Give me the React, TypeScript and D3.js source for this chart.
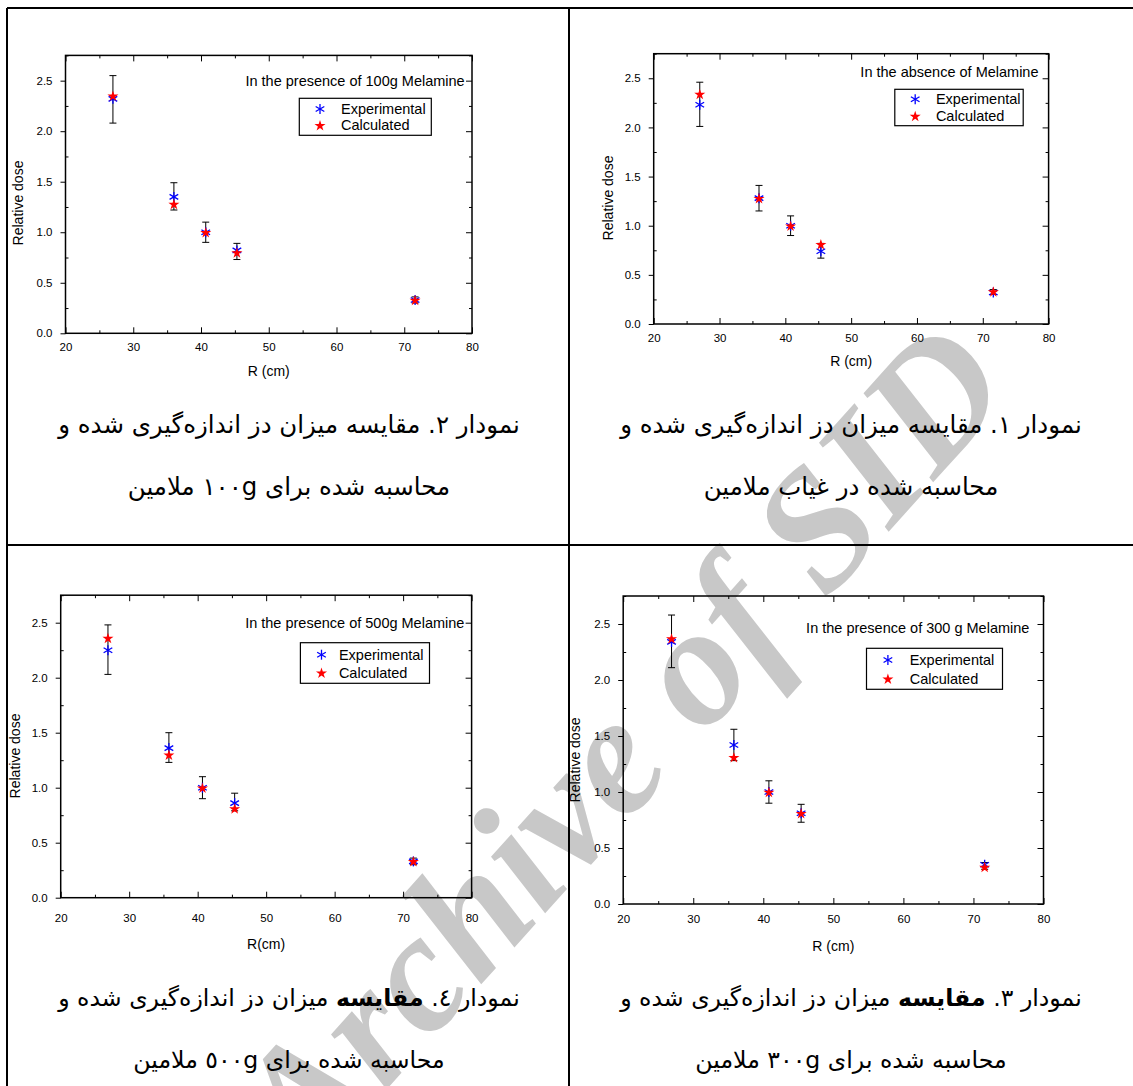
import React, { useEffect, useRef } from "react";
import * as d3 from "d3";

const xMajor = [20, 30, 40, 50, 60, 70, 80];
const xMinor = [25, 35, 45, 55, 65, 75];
const yMajor = [0, 0.5, 1, 1.5, 2, 2.5];
const yMinor = [0.25, 0.75, 1.25, 1.75, 2.25, 2.75];
const legendLabels = ["Experimental", "Calculated"];

// in the absence of melamine
const rAbsence = [27, 36, 40.8, 45.4, 71.6];
const expAbsence = [2.23, 1.28, 1.0, 0.74, 0.32];
const calcAbsence = [2.34, 1.28, 1.0, 0.81, 0.33];
const loAbsence = [2.01, 1.15, 0.9, 0.67, 0.3];
const hiAbsence = [2.46, 1.41, 1.1, 0.82, 0.35];

// 100 g melamine
const r100 = [27, 36, 40.7, 45.3, 71.6];
const exp100 = [2.32, 1.35, 1.0, 0.82, 0.33];
const calc100 = [2.35, 1.28, 1.0, 0.8, 0.33];
const lo100 = [2.08, 1.22, 0.9, 0.73, 0.3];
const hi100 = [2.55, 1.49, 1.1, 0.89, 0.36];

// 300 g melamine
const r300 = [26.9, 35.8, 40.8, 45.4, 71.6];
const exp300 = [2.34, 1.42, 1.0, 0.81, 0.35];
const calc300 = [2.37, 1.31, 1.0, 0.81, 0.33];
const lo300 = [2.11, 1.28, 0.9, 0.73, 0.31];
const hi300 = [2.58, 1.56, 1.1, 0.89, 0.37];

// 500 g melamine
const r500 = [26.9, 35.8, 40.7, 45.4, 71.5];
const exp500 = [2.25, 1.36, 1.0, 0.86, 0.33];
const calc500 = [2.36, 1.3, 1.0, 0.81, 0.33];
const lo500 = [2.03, 1.23, 0.9, 0.79, 0.3];
const hi500 = [2.48, 1.5, 1.1, 0.95, 0.36];

const titles = [
  "In the presence of 100g Melamine",
  "In the absence of Melamine",
  "In the presence of 500g Melamine",
  "In the presence of 300 g Melamine",
];

type Part = { t: string; b?: boolean };
const cap1: Part[][] = [
  [{ t: "نمودار ۲. مقایسه میزان دز اندازه\u200cگیری شده و" }],
  [{ t: "نمودار ۱. مقایسه میزان دز اندازه\u200cگیری شده و" }],
  [{ t: "نمودار ٤. " }, { t: "مقایسه", b: true }, { t: " میزان دز اندازه\u200cگیری شده و" }],
  [{ t: "نمودار ۳. " }, { t: "مقایسه", b: true }, { t: " میزان دز اندازه\u200cگیری شده و" }],
];
const cap2 = [
  "محاسبه شده برای ۱۰۰g ملامین",
  "محاسبه شده در غیاب ملامین",
  "محاسبه شده برای ٥٠٠g ملامین",
  "محاسبه شده برای ۳۰۰g ملامین",
];

const series = [
  { r: r100, exp: exp100, calc: calc100, lo: lo100, hi: hi100, xTitle: "R (cm)" },
  { r: rAbsence, exp: expAbsence, calc: calcAbsence, lo: loAbsence, hi: hiAbsence, xTitle: "R (cm)" },
  { r: r500, exp: exp500, calc: calc500, lo: lo500, hi: hi500, xTitle: "R(cm)" },
  { r: r300, exp: exp300, calc: calc300, lo: lo300, hi: hi300, xTitle: "R (cm)" },
];

// pixel layout of each panel
const boxes = [
  { left: 65.5, right: 472, top: 55.4, bottom: 333.3, titleX: 464.7, titleY: 81, legX: 299.3, legY: 98.3, legW: 132, legH: 37, symX: 320, txtX: 341, row1: 109, row2: 125.3, yTitleX: 18.2, yTitleY: 203, xLabelY: 351, xTitleY: 371, capX: 289, cap1Y: 433, cap2Y: 495 },
  { left: 653.7, right: 1048.6, top: 53.7, bottom: 324, titleX: 1038.5, titleY: 72.3, legX: 894.8, legY: 89.3, legW: 128.4, legH: 36.4, symX: 915.2, txtX: 935.9, row1: 99.3, row2: 116, yTitleX: 608, yTitleY: 198, xLabelY: 342.3, xTitleY: 361, capX: 851, cap1Y: 433, cap2Y: 495 },
  { left: 60.7, right: 471.6, top: 595.2, bottom: 897.7, titleX: 464.4, titleY: 622.7, legX: 300.4, legY: 642.7, legW: 129.1, legH: 40.6, symX: 321.5, txtX: 338.9, row1: 654.7, row2: 672.7, yTitleX: 14.5, yTitleY: 756, xLabelY: 922, xTitleY: 944, capX: 289, cap1Y: 1006, cap2Y: 1068 },
  { left: 623.2, right: 1043.5, top: 596, bottom: 904, titleX: 1029.4, titleY: 628, legX: 866.5, legY: 648.3, legW: 136, legH: 41, symX: 887.9, txtX: 909.7, row1: 660, row2: 678.7, yTitleX: 574.5, yTitleY: 760, xLabelY: 923, xTitleY: 946, capX: 851, cap1Y: 1006, cap2Y: 1068 },
];

const LATIN = "'Liberation Sans', Arial, sans-serif";
const PERSIAN = "'DejaVu Sans', sans-serif";

const starPath = d3.symbol(d3.symbolStar, 38)()!;

function asterisk(g: d3.Selection<SVGGElement, unknown, null, undefined>, cx: number, cy: number) {
  const r = 5;
  const a = g.append("g").attr("transform", `translate(${cx},${cy})`);
  [90, 30, 150].forEach((deg) => {
    const t = (deg * Math.PI) / 180;
    a.append("line")
      .attr("x1", -r * Math.cos(t))
      .attr("y1", -r * Math.sin(t))
      .attr("x2", r * Math.cos(t))
      .attr("y2", r * Math.sin(t))
      .attr("stroke", "#0000ff")
      .attr("stroke-width", 1.3);
  });
}

const App: React.FC = () => {
  const svgRef = useRef<SVGSVGElement | null>(null);

  useEffect(() => {
    if (!svgRef.current) return;
    document.body.style.margin = "0";
    const svg = d3.select(svgRef.current);
    svg.selectAll("*").remove();

    svg.append("rect").attr("width", 1133).attr("height", 1086).attr("fill", "#fff");

    // watermark
    svg
      .append("text")
      .attr("transform", "translate(620,745) rotate(-48)")
      .attr("text-anchor", "middle")
      .attr("dominant-baseline", "central")
      .attr("font-family", "'Liberation Serif', serif")
      .attr("font-style", "italic")
      .attr("font-weight", "bold")
      .attr("font-size", 170)
      .attr("fill", "#c8c8c8")
      .text("Archive of SID");

    // panel grid lines
    const grid = svg.append("g").attr("stroke", "#000").attr("stroke-width", 2);
    grid.append("line").attr("x1", 7).attr("x2", 1133).attr("y1", 8).attr("y2", 8);
    grid.append("line").attr("x1", 7).attr("x2", 1133).attr("y1", 545).attr("y2", 545);
    grid.append("line").attr("x1", 7).attr("x2", 7).attr("y1", 8).attr("y2", 1086);
    grid.append("line").attr("x1", 569).attr("x2", 569).attr("y1", 8).attr("y2", 1086);

    series.forEach((s, i) => {
      const b = boxes[i];
      const x = d3.scaleLinear().domain([20, 80]).range([b.left, b.right]);
      const y = d3.scaleLinear().domain([0, 2.75]).range([b.bottom, b.top]);
      const g = svg.append("g");

      const styleAxis = (ax: d3.Selection<SVGGElement, unknown, null, undefined>) => {
        ax.select(".domain").remove();
        ax.selectAll("line").attr("stroke", "#000").attr("stroke-width", 1);
        ax.selectAll("text")
          .attr("font-family", LATIN)
          .attr("font-size", 11.5)
          .attr("fill", "#000");
      };

      // bottom
      g.append("g")
        .attr("transform", `translate(0,${b.bottom})`)
        .call(d3.axisBottom(x).tickValues(xMajor).tickSizeInner(-6).tickSizeOuter(0).tickPadding(b.xLabelY - b.bottom - 4))
        .call(styleAxis)
        .call((ax) => ax.selectAll("text").attr("dy", "0.35em"));
      g.append("g")
        .attr("transform", `translate(0,${b.bottom})`)
        .call(d3.axisBottom(x).tickValues(xMinor).tickSizeInner(-3).tickSizeOuter(0).tickFormat(() => ""))
        .call(styleAxis);
      // top
      g.append("g")
        .attr("transform", `translate(0,${b.top})`)
        .call(d3.axisTop(x).tickValues(xMajor).tickSizeInner(-6).tickSizeOuter(0).tickFormat(() => ""))
        .call(styleAxis);
      g.append("g")
        .attr("transform", `translate(0,${b.top})`)
        .call(d3.axisTop(x).tickValues(xMinor).tickSizeInner(-3).tickSizeOuter(0).tickFormat(() => ""))
        .call(styleAxis);
      // left
      g.append("g")
        .attr("transform", `translate(${b.left},0)`)
        .call(d3.axisLeft(y).tickValues(yMajor).tickSizeInner(5).tickSizeOuter(0).tickPadding(8).tickFormat(d3.format(".1f")))
        .call(styleAxis);
      g.append("g")
        .attr("transform", `translate(${b.left},0)`)
        .call(d3.axisLeft(y).tickValues(yMinor).tickSizeInner(-3).tickSizeOuter(0).tickFormat(() => ""))
        .call(styleAxis);
      // right
      g.append("g")
        .attr("transform", `translate(${b.right},0)`)
        .call(d3.axisRight(y).tickValues(yMajor).tickSizeInner(-6).tickSizeOuter(0).tickFormat(() => ""))
        .call(styleAxis);
      g.append("g")
        .attr("transform", `translate(${b.right},0)`)
        .call(d3.axisRight(y).tickValues(yMinor).tickSizeInner(-3).tickSizeOuter(0).tickFormat(() => ""))
        .call(styleAxis);

      // frame
      g.append("rect")
        .attr("x", b.left)
        .attr("y", b.top)
        .attr("width", b.right - b.left)
        .attr("height", b.bottom - b.top)
        .attr("fill", "none")
        .attr("stroke", "#000")
        .attr("stroke-width", 1.5);

      // axis titles
      g.append("text")
        .attr("x", (b.left + b.right) / 2)
        .attr("y", b.xTitleY)
        .attr("text-anchor", "middle")
        .attr("dominant-baseline", "central")
        .attr("font-family", LATIN)
        .attr("font-size", 14)
        .text(s.xTitle);
      g.append("text")
        .attr("transform", `translate(${b.yTitleX},${b.yTitleY}) rotate(-90)`)
        .attr("text-anchor", "middle")
        .attr("dominant-baseline", "central")
        .attr("font-family", LATIN)
        .attr("font-size", 14)
        .text("Relative dose");

      // panel title
      g.append("text")
        .attr("x", b.titleX)
        .attr("y", b.titleY)
        .attr("text-anchor", "end")
        .attr("dominant-baseline", "central")
        .attr("font-family", LATIN)
        .attr("font-size", 14.5)
        .text(titles[i]);

      // legend
      g.append("rect")
        .attr("x", b.legX)
        .attr("y", b.legY)
        .attr("width", b.legW)
        .attr("height", b.legH)
        .attr("fill", "#fff")
        .attr("stroke", "#000")
        .attr("stroke-width", 1.2);
      asterisk(g, b.symX, b.row1);
      g.append("path")
        .attr("d", starPath)
        .attr("transform", `translate(${b.symX},${b.row2 + 0.5})`)
        .attr("fill", "#ff0000");
      [b.row1, b.row2].forEach((ry, k) => {
        g.append("text")
          .attr("x", b.txtX)
          .attr("y", ry)
          .attr("dominant-baseline", "central")
          .attr("font-family", LATIN)
          .attr("font-size", 14.5)
          .text(legendLabels[k]);
      });

      // error bars
      s.r.forEach((rv, k) => {
        const px = x(rv);
        const eb = g.append("g").attr("stroke", "#000").attr("stroke-width", 1);
        eb.append("line").attr("x1", px).attr("x2", px).attr("y1", y(s.lo[k])).attr("y2", y(s.hi[k]));
        [s.lo[k], s.hi[k]].forEach((v) => {
          eb.append("line").attr("x1", px - 3.5).attr("x2", px + 3.5).attr("y1", y(v)).attr("y2", y(v));
        });
      });
      // experimental
      s.r.forEach((rv, k) => asterisk(g, x(rv), y(s.exp[k])));
      // calculated
      s.r.forEach((rv, k) => {
        g.append("path")
          .attr("d", starPath)
          .attr("transform", `translate(${x(rv)},${y(s.calc[k]) + 0.5})`)
          .attr("fill", "#ff0000");
      });

      // captions (Persian, right-to-left)
      const t1 = g
        .append("text")
        .attr("x", b.capX)
        .attr("y", b.cap1Y)
        .attr("direction", "rtl")
        .attr("text-anchor", "middle")
        .attr("font-family", PERSIAN)
        .attr("font-size", 22);
      cap1[i].forEach((p) => {
        t1.append("tspan").attr("font-weight", p.b ? "bold" : "normal").text(p.t);
      });
      const t2 = g
        .append("text")
        .attr("x", b.capX)
        .attr("y", b.cap2Y)
        .attr("direction", "rtl")
        .attr("text-anchor", "middle")
        .attr("font-family", PERSIAN)
        .attr("font-size", 22)
        .text(cap2[i]);
      // fit first caption line to the printed width
      const len = (t1.node() as SVGTextElement).getComputedTextLength();
      if (len > 0) {
        const fs = (22 * 462) / len;
        t1.attr("font-size", fs);
        t2.attr("font-size", fs);
      }
    });
  }, []);

  return <svg ref={svgRef} width={1133} height={1086} style={{ display: "block" }} />;
};

export default App;
